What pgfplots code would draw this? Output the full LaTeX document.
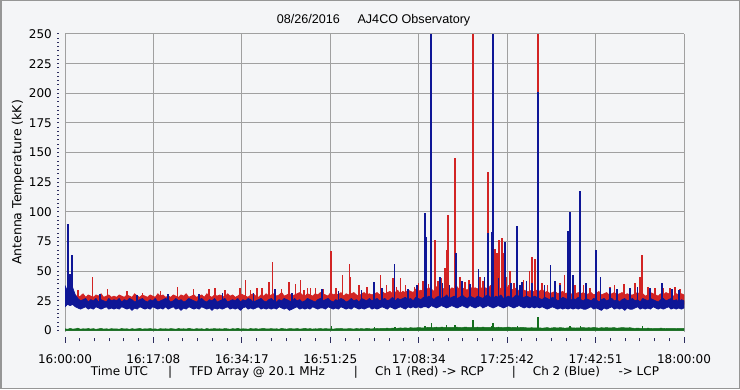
\documentclass[border=0pt]{standalone}
\usepackage{fontspec}
\setmainfont{DejaVu Sans}
\newfontfamily\titlefont{Liberation Sans}
\usepackage{pgfplots}
\usepackage{pgfplotstable}
\pgfplotsset{compat=1.18}
\definecolor{bg}{RGB}{244,245,247}
\definecolor{gridc}{RGB}{160,160,160}
\definecolor{rc}{RGB}{210,36,36}
\definecolor{bc}{RGB}{14,22,150}
\definecolor{gc}{RGB}{20,110,30}
\definecolor{tickc}{RGB}{45,45,95}
\definecolor{framec}{RGB}{150,150,150}
\pgfplotsset{
  rsp/.style={rc, line width=1.5pt, forget plot},
  bsp/.style={bc, line width=1.5pt, forget plot},
  RSP/.style={rc, line width=2.2pt, forget plot},
  BSP/.style={bc, line width=2.2pt, forget plot},
  gsp/.style={gc, line width=1.3pt, forget plot},
}

% Ch 1 (red) noise band: upper edge (minutes after 16:00, kK), then its floor
\pgfplotstableread[row sep=\\]{
x y\\
0 30\\0.5 32\\1 31\\1.5 29\\2 30\\2.5 28\\3 29\\3.5 31\\4 28\\4.5 30\\
5 29\\5.5 28\\6 30\\6.5 29\\7 31\\7.5 28\\8 29\\8.5 30\\9 28\\9.5 29\\
10 28\\10.5 30\\11 29\\11.5 28\\12 30\\12.5 29\\13 28\\13.5 31\\14 29\\14.5 28\\
15 30\\15.5 29\\16 28\\16.5 30\\17 29\\17.5 28\\18 31\\18.5 29\\19 30\\19.5 28\\
20 29\\20.5 28\\21 30\\21.5 29\\22 28\\22.5 30\\23 29\\23.5 31\\24 28\\24.5 29\\
25 30\\25.5 28\\26 29\\26.5 30\\27 28\\27.5 31\\28 29\\28.5 28\\29 30\\29.5 29\\
30 30\\30.5 29\\31 28\\31.5 31\\32 29\\32.5 30\\33 28\\33.5 29\\34 31\\34.5 30\\
35 29\\35.5 28\\36 30\\36.5 31\\37 29\\37.5 28\\38 30\\38.5 29\\39 31\\39.5 29\\
40 30\\40.5 31\\41 29\\41.5 30\\42 32\\42.5 29\\43 30\\43.5 31\\44 29\\44.5 30\\
45 31\\45.5 32\\46 30\\46.5 29\\47 31\\47.5 30\\48 29\\48.5 31\\49 30\\49.5 32\\
50 31\\50.5 30\\51 29\\51.5 32\\52 30\\52.5 31\\53 30\\53.5 32\\54 29\\54.5 31\\
55 30\\55.5 31\\56 32\\56.5 30\\57 29\\57.5 31\\58 32\\58.5 30\\59 31\\59.5 30\\
60 31\\60.5 32\\61 30\\61.5 33\\62 31\\62.5 32\\63 33\\63.5 31\\64 32\\64.5 34\\
65 31\\65.5 33\\66 32\\66.5 34\\67 33\\67.5 32\\68 35\\68.5 33\\69 34\\69.5 32\\
70 34\\70.5 36\\71 35\\71.5 33\\72 37\\72.5 34\\73 36\\73.5 35\\74 38\\74.5 34\\
75 36\\75.5 35\\76 37\\76.5 34\\77 36\\77.5 35\\78 34\\78.5 37\\79 35\\79.5 36\\
80 35\\80.5 37\\81 34\\81.5 36\\82 35\\82.5 38\\83 36\\83.5 34\\84 37\\84.5 35\\
85 36\\85.5 34\\86 38\\86.5 35\\87 34\\87.5 36\\88 33\\88.5 35\\89 34\\89.5 33\\
90 33\\90.5 34\\91 32\\91.5 34\\92 33\\92.5 35\\93 32\\93.5 33\\94 31\\94.5 32\\
95 33\\95.5 31\\96 32\\96.5 33\\97 31\\97.5 32\\98 30\\98.5 32\\99 31\\99.5 32\\
100 31\\100.5 32\\101 30\\101.5 31\\102 32\\102.5 30\\103 31\\103.5 33\\104 30\\104.5 31\\
105 32\\105.5 30\\106 31\\106.5 32\\107 30\\107.5 31\\108 32\\108.5 30\\109 31\\109.5 30\\
110 30\\110.5 31\\111 32\\111.5 30\\112 31\\112.5 29\\113 30\\113.5 32\\114 31\\114.5 30\\
115 29\\115.5 31\\116 30\\116.5 32\\117 31\\117.5 30\\118 29\\118.5 31\\119 30\\119.5 31\\
120 30\\120 22\\0 22\\
}\redband

% Ch 2 (blue) noise band: upper edge forward, lower edge backward
\pgfplotstableread[row sep=\\]{
x y\\
0 38\\0.5 33\\1 46\\1.5 36\\2 30\\2.5 27\\3 25\\3.5 26\\4 27\\4.5 24\\
5 26\\5.5 25\\6 27\\6.5 24\\7 26\\7.5 25\\8 24\\8.5 27\\9 25\\9.5 26\\
10 25\\10.5 27\\11 24\\11.5 26\\12 25\\12.5 27\\13 26\\13.5 24\\14 25\\14.5 26\\
15 27\\15.5 25\\16 24\\16.5 26\\17 25\\17.5 27\\18 24\\18.5 25\\19 26\\19.5 27\\
20 26\\20.5 24\\21 25\\21.5 27\\22 25\\22.5 26\\23 24\\23.5 25\\24 27\\24.5 26\\
25 25\\25.5 24\\26 26\\26.5 27\\27 25\\27.5 24\\28 26\\28.5 25\\29 27\\29.5 24\\
30 25\\30.5 26\\31 27\\31.5 24\\32 25\\32.5 26\\33 25\\33.5 27\\34 24\\34.5 26\\
35 25\\35.5 27\\36 26\\36.5 24\\37 25\\37.5 26\\38 27\\38.5 25\\39 24\\39.5 26\\
40 27\\40.5 25\\41 24\\41.5 26\\42 25\\42.5 27\\43 26\\43.5 25\\44 24\\44.5 27\\
45 25\\45.5 26\\46 24\\46.5 25\\47 27\\47.5 26\\48 25\\48.5 24\\49 26\\49.5 27\\
50 25\\50.5 26\\51 27\\51.5 25\\52 24\\52.5 26\\53 25\\53.5 27\\54 26\\54.5 24\\
55 25\\55.5 27\\56 25\\56.5 26\\57 24\\57.5 27\\58 26\\58.5 25\\59 27\\59.5 25\\
60 26\\60.5 27\\61 25\\61.5 26\\62 27\\62.5 25\\63 26\\63.5 28\\64 25\\64.5 27\\
65 26\\65.5 27\\66 28\\66.5 26\\67 27\\67.5 25\\68 28\\68.5 27\\69 26\\69.5 28\\
70 27\\70.5 29\\71 28\\71.5 26\\72 28\\72.5 29\\73 27\\73.5 28\\74 30\\74.5 27\\
75 28\\75.5 29\\76 27\\76.5 28\\77 30\\77.5 28\\78 27\\78.5 29\\79 28\\79.5 27\\
80 29\\80.5 28\\81 27\\81.5 29\\82 30\\82.5 28\\83 27\\83.5 29\\84 28\\84.5 30\\
85 27\\85.5 28\\86 29\\86.5 27\\87 28\\87.5 30\\88 29\\88.5 27\\89 28\\89.5 29\\
90 28\\90.5 27\\91 29\\91.5 28\\92 27\\92.5 26\\93 28\\93.5 27\\94 26\\94.5 28\\
95 27\\95.5 25\\96 26\\96.5 28\\97 27\\97.5 26\\98 25\\98.5 27\\99 26\\99.5 28\\
100 26\\100.5 25\\101 27\\101.5 26\\102 25\\102.5 27\\103 26\\103.5 24\\104 26\\104.5 27\\
105 25\\105.5 26\\106 27\\106.5 25\\107 26\\107.5 24\\108 26\\108.5 27\\109 25\\109.5 26\\
110 27\\110.5 25\\111 26\\111.5 24\\112 27\\112.5 26\\113 25\\113.5 27\\114 26\\114.5 25\\
115 24\\115.5 26\\116 27\\116.5 25\\117 26\\117.5 27\\118 25\\118.5 26\\119 24\\119.5 26\\
120 25\\
120 19\\119.5 18\\119 19\\118.5 18\\118 19\\117.5 18\\117 20\\116.5 19\\116 18\\115.5 19\\
115 18\\114.5 19\\114 20\\113.5 18\\113 19\\112.5 18\\112 19\\111.5 18\\111 20\\110.5 19\\
110 18\\109.5 18\\109 19\\108.5 17\\108 19\\107.5 18\\107 19\\106.5 18\\106 20\\105.5 19\\
105 18\\104.5 19\\104 17\\103.5 18\\103 19\\102.5 18\\102 20\\101.5 19\\101 18\\100.5 18\\
100 19\\99.5 18\\99 19\\98.5 18\\98 19\\97.5 18\\97 19\\96.5 18\\96 19\\95.5 18\\
95 19\\94.5 20\\94 19\\93.5 18\\93 19\\92.5 20\\92 19\\91.5 20\\91 19\\90.5 20\\
90 19\\89.5 20\\89 19\\88.5 20\\88 21\\87.5 20\\87 19\\86.5 20\\86 21\\85.5 20\\
85 19\\84.5 20\\84 21\\83.5 20\\83 19\\82.5 20\\82 21\\81.5 20\\81 19\\80.5 21\\
80 20\\79.5 19\\79 20\\78.5 21\\78 19\\77.5 20\\77 21\\76.5 20\\76 19\\75.5 20\\
75 21\\74.5 20\\74 19\\73.5 20\\73 21\\72.5 20\\72 19\\71.5 20\\71 21\\70.5 19\\
70 20\\69.5 20\\69 19\\68.5 20\\68 19\\67.5 20\\67 19\\66.5 20\\66 18\\65.5 19\\
65 20\\64.5 19\\64 18\\63.5 19\\63 20\\62.5 18\\62 19\\61.5 20\\61 19\\60.5 18\\
60 19\\59.5 18\\59 20\\58.5 19\\58 18\\57.5 19\\57 18\\56.5 19\\56 20\\55.5 18\\
55 19\\54.5 18\\54 19\\53.5 20\\53 18\\52.5 19\\52 18\\51.5 19\\51 20\\50.5 18\\
50 19\\49.5 19\\49 18\\48.5 19\\48 20\\47.5 18\\47 19\\46.5 18\\46 19\\45.5 18\\
45 20\\44.5 19\\44 18\\43.5 17\\43 19\\42.5 18\\42 19\\41.5 20\\41 18\\40.5 19\\
40 18\\39.5 19\\39 18\\38.5 19\\38 18\\37.5 20\\37 19\\36.5 18\\36 19\\35.5 18\\
35 20\\34.5 19\\34 17\\33.5 19\\33 18\\32.5 19\\32 18\\31.5 20\\31 19\\30.5 18\\
30 19\\29.5 18\\29 19\\28.5 17\\28 19\\27.5 18\\27 19\\26.5 20\\26 18\\25.5 19\\
25 18\\24.5 19\\24 20\\23.5 18\\23 19\\22.5 17\\22 19\\21.5 18\\21 20\\20.5 19\\
20 18\\19.5 20\\19 18\\18.5 19\\18 18\\17.5 19\\17 20\\16.5 18\\16 19\\15.5 18\\
15 19\\14.5 20\\14 18\\13.5 19\\13 17\\12.5 19\\12 18\\11.5 19\\11 20\\10.5 18\\
10 19\\9.5 18\\9 19\\8.5 18\\8 20\\7.5 19\\7 18\\6.5 19\\6 20\\5.5 18\\
5 19\\4.5 18\\4 20\\3.5 19\\3 18\\2.5 19\\2 20\\1.5 22\\1 21\\0.5 22\\
0 20\\
}\blueband

% background-level channel (green): upper edge, then floor
\pgfplotstableread[row sep=\\]{
x y\\
0 1.5\\0.5 1.0\\1 1.8\\1.5 1.2\\2 1.4\\2.5 2.0\\3 1.1\\3.5 1.5\\4 1.3\\4.5 1.7\\
5 1.2\\5.5 1.6\\6 1.0\\6.5 1.4\\7 1.8\\7.5 1.2\\8 1.5\\8.5 1.1\\9 1.6\\9.5 1.3\\
10 1.4\\10.5 1.1\\11 1.7\\11.5 1.3\\12 1.5\\12.5 1.0\\13 1.6\\13.5 1.2\\14 1.4\\14.5 1.8\\
15 1.1\\15.5 1.5\\16 1.3\\16.5 1.7\\17 1.2\\17.5 1.4\\18 1.0\\18.5 1.6\\19 1.3\\19.5 1.5\\
20 1.2\\20.5 1.6\\21 1.4\\21.5 1.1\\22 1.7\\22.5 1.3\\23 1.5\\23.5 1.2\\24 1.8\\24.5 1.4\\
25 1.1\\25.5 1.6\\26 1.3\\26.5 1.5\\27 1.0\\27.5 1.7\\28 1.2\\28.5 1.4\\29 1.6\\29.5 1.3\\
30 1.5\\30.5 1.2\\31 1.7\\31.5 1.4\\32 1.1\\32.5 1.6\\33 1.3\\33.5 1.8\\34 1.2\\34.5 1.5\\
35 1.4\\35.5 1.1\\36 1.7\\36.5 1.3\\37 1.6\\37.5 1.2\\38 1.5\\38.5 1.8\\39 1.3\\39.5 1.4\\
40 1.6\\40.5 1.3\\41 1.5\\41.5 1.1\\42 1.8\\42.5 1.4\\43 1.2\\43.5 1.6\\44 1.5\\44.5 1.3\\
45 1.7\\45.5 1.2\\46 1.4\\46.5 1.9\\47 1.3\\47.5 1.6\\48 1.2\\48.5 1.5\\49 1.4\\49.5 1.7\\
50 1.3\\50.5 1.6\\51 1.4\\51.5 1.4\\52 1.2\\52.5 1.5\\53 1.6\\53.5 1.7\\54 1.4\\54.5 1.3\\
55 1.6\\55.5 1.5\\56 1.2\\56.5 1.7\\57 1.4\\57.5 1.6\\58 1.3\\58.5 1.8\\59 1.5\\59.5 1.4\\
60 1.6\\60.5 1.7\\61 1.6\\61.5 1.9\\62 1.8\\62.5 2.0\\63 1.7\\63.5 2.1\\64 1.8\\64.5 1.9\\
65 2.2\\65.5 2.0\\66 2.3\\66.5 1.9\\67 2.4\\67.5 2.1\\68 2.2\\68.5 2.5\\69 2.3\\69.5 2.2\\
70 2.4\\70.5 2.7\\71 2.5\\71.5 2.5\\72 2.8\\72.5 2.4\\73 2.9\\73.5 2.6\\74 2.6\\74.5 2.7\\
75 2.5\\75.5 2.7\\76 2.8\\76.5 2.6\\77 2.4\\77.5 2.9\\78 2.7\\78.5 2.5\\79 2.6\\79.5 2.6\\
80 2.8\\80.5 2.5\\81 2.9\\81.5 2.6\\82 2.7\\82.5 2.7\\83 2.6\\83.5 2.5\\84 2.8\\84.5 2.6\\
85 2.4\\85.5 2.7\\86 2.9\\86.5 2.5\\87 2.6\\87.5 2.5\\88 2.4\\88.5 2.7\\89 2.5\\89.5 2.3\\
90 2.2\\90.5 2.4\\91 2.1\\91.5 2.3\\92 2.3\\92.5 2.0\\93 2.2\\93.5 2.5\\94 1.9\\94.5 2.3\\
95 2.4\\95.5 2.1\\96 2.5\\96.5 2.2\\97 2.0\\97.5 2.3\\98 2.4\\98.5 2.2\\99 2.1\\99.5 2.2\\
100 2.3\\100.5 2.5\\101 2.1\\101.5 2.4\\102 2.2\\102.5 2.6\\103 2.3\\103.5 2.0\\104 2.4\\104.5 2.2\\
105 2.5\\105.5 2.1\\106 2.3\\106.5 2.4\\107 2.0\\107.5 2.2\\108 2.5\\108.5 2.3\\109 2.1\\109.5 2.4\\
110 2.0\\110.5 1.8\\111 2.1\\111.5 1.8\\112 1.9\\112.5 1.7\\113 2.0\\113.5 1.8\\114 1.6\\114.5 1.9\\
115 1.7\\115.5 2.0\\116 1.8\\116.5 1.6\\117 1.9\\117.5 1.7\\118 1.8\\118.5 1.6\\119 1.9\\119.5 1.7\\
120 1.7\\120 0\\0 0\\
}\greenband

\begin{document}
\begin{tikzpicture}
\useasboundingbox (0,0) rectangle (740pt,389pt);
\fill[bg] (0,0) rectangle (740pt,389pt);
\draw[framec, line width=1.5pt] (0.75pt,0.75pt) rectangle (739.25pt,388.25pt);

% underlay: horizontal grid, y ticks and labels
\begin{axis}[
  at={(65pt,57pt)}, anchor=south west,
  scale only axis, width=619pt, height=298pt,
  xmin=0, xmax=120, ymin=-1.26, ymax=250,
  axis line style={draw=none},
  xtick=\empty,
  ytick={0,25,...,250},
  minor y tick num=6,
  ymajorgrids,
  major grid style={gridc, line width=1pt},
  tick pos=left,
  tick align=center,
  major tick length=2pt, minor tick length=2pt,
  y tick style={tickc, line width=1pt, xshift=-6.5pt},
  yticklabel style={font=\fontsize{12}{14}\selectfont, inner sep=0pt, anchor=east, xshift=-12pt},
  /pgf/number format/assume math mode=true,
]
\addplot[draw=none] coordinates {(0,0)};
\end{axis}

% main: vertical grid, x ticks and labels, data
\begin{axis}[
  at={(65pt,57pt)}, anchor=south west,
  scale only axis, width=619pt, height=298pt,
  xmin=0, xmax=120, ymin=-1.26, ymax=250,
  axis line style={draw=none},
  xtick={0,17.142857,34.285714,51.428571,68.571429,85.714286,102.857143,120},
  xticklabels={16:00:00,16:17:08,16:34:17,16:51:25,17:08:34,17:25:42,17:42:51,18:00:00},
  minor x tick num=5,
  ytick=\empty,
  xmajorgrids,
  major grid style={gridc, line width=1pt},
  tick pos=left,
  tick align=center,
  major tick length=6pt, minor tick length=3.5pt,
  x tick style={tickc, line width=1pt, yshift=-7.5pt},
  xticklabel style={font=\fontsize{12}{14}\selectfont, inner sep=0pt, anchor=north, yshift=-19.5pt},
  line join=round,
]
\addplot[fill=rc, draw=rc, line width=0.7pt] table[x=x,y=y] {\redband};
% Ch 1 (red) spikes: (time, peak)
\addplot[rsp] coordinates {(2.5,28)(2.5,34)};
\addplot[rsp] coordinates {(5.29,28)(5.29,45)};
\addplot[rsp] coordinates {(8.2,28)(8.2,34.6)};
\addplot[rsp] coordinates {(12,28)(12,33)};
\addplot[rsp] coordinates {(15,28)(15,32)};
\addplot[rsp] coordinates {(18.5,28)(18.5,33)};
\addplot[rsp] coordinates {(21.77,28)(21.77,36.6)};
\addplot[rsp] coordinates {(24.87,28)(24.87,35)};
\addplot[rsp] coordinates {(27.92,28)(27.92,35)};
\addplot[rsp] coordinates {(29.08,28)(29.08,36)};
\addplot[rsp] coordinates {(31,28)(31,34)};
\addplot[rsp] coordinates {(33.93,28)(33.93,36)};
\addplot[rsp] coordinates {(34.96,28)(34.96,43)};
\addplot[rsp] coordinates {(36,28)(36,34)};
\addplot[rsp] coordinates {(37.22,28)(37.22,36)};
\addplot[rsp] coordinates {(38.19,28)(38.19,36)};
\addplot[rsp] coordinates {(39.55,28)(39.55,41)};
\addplot[rsp] coordinates {(40.19,28)(40.19,58)};
\addplot[rsp] coordinates {(42,28)(42,35)};
\addplot[rsp] coordinates {(43.43,28)(43.43,41)};
\addplot[rsp] coordinates {(44.65,28)(44.65,39)};
\addplot[rsp] coordinates {(45.62,28)(45.62,43)};
\addplot[rsp] coordinates {(46.3,28)(46.3,34)};
\addplot[rsp] coordinates {(47.05,28)(47.05,36)};
\addplot[rsp] coordinates {(47.56,28)(47.56,36)};
\addplot[rsp] coordinates {(48.6,28)(48.6,36)};
\addplot[rsp] coordinates {(50,28)(50,35)};
\addplot[RSP] coordinates {(51.57,28)(51.57,67)};
\addplot[rsp] coordinates {(52.5,28)(52.5,36)};
\addplot[rsp] coordinates {(53.76,28)(53.76,47)};
\addplot[rsp] coordinates {(55.12,28)(55.12,56)};
\addplot[rsp] coordinates {(55.39,28)(55.39,45)};
\addplot[rsp] coordinates {(57,28)(57,38)};
\addplot[rsp] coordinates {(58.5,28)(58.5,37)};
\addplot[rsp] coordinates {(60,28)(60,39)};
\addplot[rsp] coordinates {(61.13,28)(61.13,47)};
\addplot[rsp] coordinates {(62.3,28)(62.3,38)};
\addplot[rsp] coordinates {(63.59,28)(63.59,44)};
\addplot[rsp] coordinates {(64.3,28)(64.3,37)};
\addplot[rsp] coordinates {(65,28)(65,44)};
\addplot[rsp] coordinates {(66,28)(66,38)};
\addplot[rsp] coordinates {(67.72,28)(67.72,37)};
\addplot[rsp] coordinates {(68.5,28)(68.5,40)};
\addplot[rsp] coordinates {(69.41,28)(69.41,42)};
\addplot[rsp] coordinates {(70.5,28)(70.5,39)};
\addplot[RSP] coordinates {(71.79,28)(71.79,76)};
\addplot[rsp] coordinates {(72.3,28)(72.3,42)};
\addplot[rsp] coordinates {(73,28)(73,44)};
\addplot[rsp] coordinates {(73.67,28)(73.67,53)};
\addplot[RSP] coordinates {(74,28)(74,67.5)};
\addplot[RSP] coordinates {(74.19,28)(74.19,97)};
\addplot[RSP] coordinates {(75.67,28)(75.67,145.5)};
\addplot[rsp] coordinates {(76.58,28)(76.58,45)};
\addplot[rsp] coordinates {(77.5,28)(77.5,41)};
\addplot[rsp] coordinates {(78.3,28)(78.3,43)};
\addplot[RSP] coordinates {(79.16,28)(79.16,250)};
\addplot[rsp] coordinates {(80.46,28)(80.46,45)};
\addplot[rsp] coordinates {(81,28)(81,42)};
\addplot[RSP] coordinates {(82.07,28)(82.07,134)};
\addplot[RSP] coordinates {(83.37,28)(83.37,69)};
\addplot[RSP] coordinates {(83.7,28)(83.7,65)};
\addplot[RSP] coordinates {(84.2,28)(84.2,76)};
\addplot[RSP] coordinates {(84.66,28)(84.66,77.6)};
\addplot[RSP] coordinates {(84.97,28)(84.97,65)};
\addplot[rsp] coordinates {(85.6,28)(85.6,45)};
\addplot[rsp] coordinates {(86.27,28)(86.27,50)};
\addplot[rsp] coordinates {(87,28)(87,40)};
\addplot[rsp] coordinates {(88.9,28)(88.9,43)};
\addplot[rsp] coordinates {(90.02,28)(90.02,50.5)};
\addplot[RSP] coordinates {(90.6,28)(90.6,62)};
\addplot[RSP] coordinates {(91.18,28)(91.18,60)};
\addplot[RSP] coordinates {(91.76,28)(91.76,250)};
\addplot[rsp] coordinates {(92.5,28)(92.5,40)};
\addplot[rsp] coordinates {(93.5,28)(93.5,38)};
\addplot[rsp] coordinates {(95,28)(95,37)};
\addplot[rsp] coordinates {(96,28)(96,40)};
\addplot[rsp] coordinates {(96.8,28)(96.8,47)};
\addplot[rsp] coordinates {(97.5,28)(97.5,41)};
\addplot[rsp] coordinates {(98.9,28)(98.9,38)};
\addplot[rsp] coordinates {(100.5,28)(100.5,38)};
\addplot[rsp] coordinates {(101.8,28)(101.8,36)};
\addplot[rsp] coordinates {(103,28)(103,37)};
\addplot[rsp] coordinates {(105.7,28)(105.7,37)};
\addplot[rsp] coordinates {(106.5,28)(106.5,38)};
\addplot[rsp] coordinates {(108.37,28)(108.37,39)};
\addplot[rsp] coordinates {(109.5,28)(109.5,36)};
\addplot[rsp] coordinates {(110.5,28)(110.5,40)};
\addplot[rsp] coordinates {(111.48,28)(111.48,45)};
\addplot[RSP] coordinates {(111.93,28)(111.93,64)};
\addplot[rsp] coordinates {(113,28)(113,37)};
\addplot[rsp] coordinates {(114.4,28)(114.4,36)};
\addplot[rsp] coordinates {(116,28)(116,36)};
\addplot[rsp] coordinates {(117.3,28)(117.3,36)};
\addplot[rsp] coordinates {(118.3,28)(118.3,37)};
\addplot[rsp] coordinates {(119.2,28)(119.2,35)};
\addplot[fill=bc, draw=bc, line width=0.7pt] table[x=x,y=y] {\blueband};
% Ch 2 (blue) spikes: (time, peak)
\addplot[BSP] coordinates {(0.64,24)(0.64,89.5)};
\addplot[bsp] coordinates {(0.97,24)(0.97,48)};
\addplot[BSP] coordinates {(1.42,24)(1.42,64)};
\addplot[bsp] coordinates {(6.8,24)(6.8,31)};
\addplot[bsp] coordinates {(14,24)(14,30)};
\addplot[bsp] coordinates {(20,24)(20,31)};
\addplot[bsp] coordinates {(26,24)(26,31)};
\addplot[bsp] coordinates {(30.5,24)(30.5,32)};
\addplot[bsp] coordinates {(36.5,24)(36.5,32)};
\addplot[bsp] coordinates {(40.71,24)(40.71,34.6)};
\addplot[bsp] coordinates {(44,24)(44,32)};
\addplot[bsp] coordinates {(49.82,24)(49.82,35)};
\addplot[bsp] coordinates {(53,24)(53,33)};
\addplot[bsp] coordinates {(57.5,24)(57.5,34)};
\addplot[bsp] coordinates {(59.91,24)(59.91,41)};
\addplot[bsp] coordinates {(61.5,24)(61.5,36)};
\addplot[bsp] coordinates {(63.84,24)(63.84,56)};
\addplot[bsp] coordinates {(66.5,24)(66.5,35)};
\addplot[bsp] coordinates {(68.2,24)(68.2,38)};
\addplot[BSP] coordinates {(69.85,24)(69.85,99)};
\addplot[BSP] coordinates {(69.98,24)(69.98,79)};
\addplot[BSP] coordinates {(71.01,24)(71.01,250)};
\addplot[bsp] coordinates {(72.7,24)(72.7,45)};
\addplot[bsp] coordinates {(73.2,24)(73.2,40)};
\addplot[bsp] coordinates {(74.5,24)(74.5,38)};
\addplot[BSP] coordinates {(75.8,24)(75.8,65)};
\addplot[bsp] coordinates {(77,24)(77,42)};
\addplot[bsp] coordinates {(78.5,24)(78.5,39)};
\addplot[bsp] coordinates {(80.13,24)(80.13,52)};
\addplot[bsp] coordinates {(81.3,24)(81.3,45)};
\addplot[BSP] coordinates {(82,24)(82,82)};
\addplot[BSP] coordinates {(82.8,24)(82.8,83)};
\addplot[BSP] coordinates {(83.04,24)(83.04,250)};
\addplot[bsp] coordinates {(84,24)(84,44)};
\addplot[BSP] coordinates {(85.36,24)(85.36,75)};
\addplot[bsp] coordinates {(86.5,24)(86.5,40)};
\addplot[BSP] coordinates {(87.69,24)(87.69,88)};
\addplot[bsp] coordinates {(88.2,24)(88.2,38)};
\addplot[bsp] coordinates {(88.6,24)(88.6,41)};
\addplot[bsp] coordinates {(89.5,24)(89.5,42)};
\addplot[bsp] coordinates {(90.5,24)(90.5,40)};
\addplot[BSP] coordinates {(91.76,24)(91.76,201)};
\addplot[bsp] coordinates {(93,24)(93,38)};
\addplot[bsp] coordinates {(94.09,24)(94.09,55)};
\addplot[bsp] coordinates {(95,24)(95,42)};
\addplot[bsp] coordinates {(96,24)(96,38)};
\addplot[BSP] coordinates {(97.58,24)(97.58,84)};
\addplot[BSP] coordinates {(97.97,24)(97.97,99.6)};
\addplot[bsp] coordinates {(98.5,24)(98.5,47)};
\addplot[BSP] coordinates {(99.9,24)(99.9,118)};
\addplot[bsp] coordinates {(101,24)(101,40)};
\addplot[BSP] coordinates {(103,24)(103,68)};
\addplot[bsp] coordinates {(103.78,24)(103.78,45)};
\addplot[bsp] coordinates {(105.7,24)(105.7,36)};
\addplot[bsp] coordinates {(107,24)(107,35)};
\addplot[bsp] coordinates {(109.5,24)(109.5,36)};
\addplot[bsp] coordinates {(111,24)(111,37)};
\addplot[bsp] coordinates {(113.4,24)(113.4,36)};
\addplot[bsp] coordinates {(115.74,24)(115.74,40)};
\addplot[bsp] coordinates {(117.7,24)(117.7,35)};
\addplot[bsp] coordinates {(119,24)(119,34)};
\addplot[fill=gc, draw=gc, line width=0.5pt] table[x=x,y=y] {\greenband};
% green channel spikes: (time, peak)
\addplot[gsp] coordinates {(51.6,1)(51.6,3.5)};
\addplot[gsp] coordinates {(60,1)(60,3)};
\addplot[gsp] coordinates {(64,1)(64,3)};
\addplot[gsp] coordinates {(69.8,1)(69.8,3.5)};
\addplot[gsp] coordinates {(71,1)(71,6)};
\addplot[gsp] coordinates {(74,1)(74,5)};
\addplot[gsp] coordinates {(75.6,1)(75.6,5)};
\addplot[gsp] coordinates {(79.1,1)(79.1,9)};
\addplot[gsp] coordinates {(82.7,1)(82.7,4)};
\addplot[gsp] coordinates {(83,1)(83,6)};
\addplot[gsp] coordinates {(87.7,1)(87.7,3.5)};
\addplot[gsp] coordinates {(91.7,1)(91.7,11)};
\addplot[gsp] coordinates {(97.9,1)(97.9,3.5)};
\addplot[gsp] coordinates {(99.9,1)(99.9,4)};
\addplot[gsp] coordinates {(111.9,1)(111.9,3.5)};
\end{axis}

\node[anchor=base west, inner sep=0pt, font=\titlefont\fontsize{12.6}{14}\selectfont] at (276.7pt,365pt) {08/26/2016\hspace{17.6pt}AJ4CO Observatory};
\node[rotate=90, inner sep=0pt, font=\fontsize{12.5}{14}\selectfont] at (18pt,206.5pt) {Antenna Temperature (kK)};
\begin{scope}[every node/.style={inner sep=0pt, font=\fontsize{12}{14}\selectfont}]
\node[anchor=base west] at (90.7pt,13.3pt) {Time UTC};
\node[anchor=base] at (170.2pt,13.3pt) {|};
\node[anchor=base west] at (189.3pt,13.3pt) {TFD Array @ 20.1 MHz};
\node[anchor=base] at (356pt,13.3pt) {|};
\node[anchor=base west] at (375pt,13.3pt) {Ch 1 (Red) -> RCP};
\node[anchor=base] at (514pt,13.3pt) {|};
\node[anchor=base west] at (532.7pt,13.3pt) {Ch 2 (Blue)};
\node[anchor=base west] at (618.3pt,13.3pt) {-> LCP};
\end{scope}
\end{tikzpicture}
\end{document}
